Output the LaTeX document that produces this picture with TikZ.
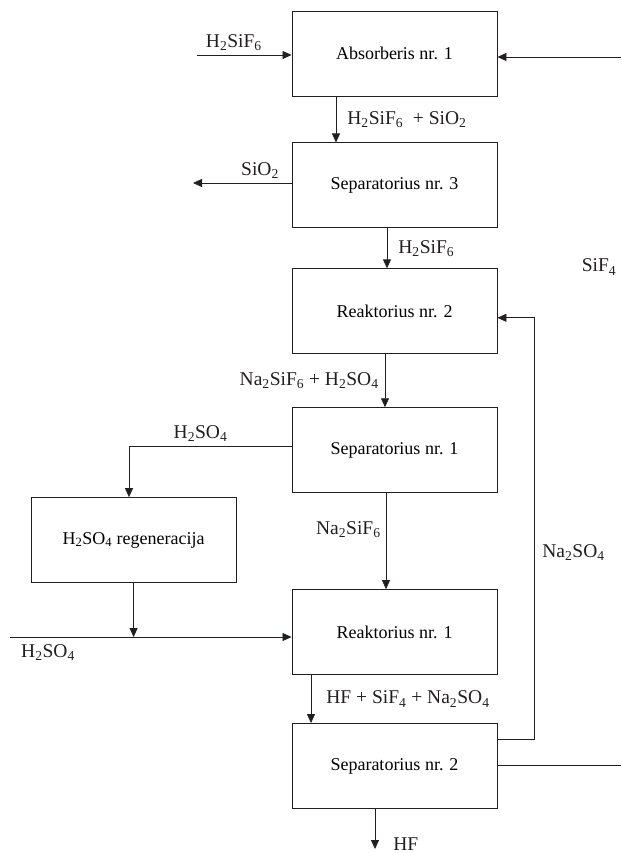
\documentclass[tikz,border=0pt]{standalone}
\usepackage{fontspec}
\setmainfont{Liberation Serif}
\usepackage{tikz}
\usetikzlibrary{arrows.meta, positioning}
\usepackage{xcolor}
\definecolor{flowink}{RGB}{35,31,32}
\tikzset{
    box/.style={draw=flowink, line width=0.9pt, fill=white, align=center,
                font=\fontsize{18}{22}\selectfont, minimum width=205pt, minimum height=85pt, inner sep=3pt},
    arrow/.style={-{Triangle[length=9pt, width=8pt]}, line width=0.8pt, flowink},
    pipe/.style={line width=0.8pt, flowink},
    lbl/.style={font=\fontsize{19.5}{23}\selectfont, inner sep=1pt, text=flowink},
}
\newcommand{\sbs}[1]{\textsubscript{#1}}

\begin{document}
\begin{tikzpicture}[x=1pt, y=-1pt]
                \useasboundingbox (0,0) rectangle (621,853);
                \node[box] (absorb) at (394.5,53.5) {Absorberis nr. 1};
                \node[box, below=46pt of absorb] (sep3) {Separatorius nr. 3};
                \node[box, below=40pt of sep3] (reak2) {Reaktorius nr. 2};
                \node[box, below=53pt of reak2] (sep1) {Separatorius nr. 1};
                \node[box, below left=4pt and 55pt of sep1.south west] (regen) {H\sbs{2}SO\sbs{4} regeneracija};
                \node[box, below=96pt of sep1] (reak1) {Reaktorius nr. 1};
                \node[box, below=48pt of reak1] (sep2) {Separatorius nr. 2};
                \node[lbl] (sif4) at (599,267) {SiF\sbs{4}};
                \coordinate (feed) at (197,55);
                \coordinate (sif4in) at (621,57);
                \coordinate (sio2out) at (193,183);
                \coordinate (acidturn) at (129,446);
                \coordinate (acidin) at (10,637);
                \coordinate (recyc) at (534,739);
                \coordinate (reak2in) at ([yshift=-6.5pt]reak2.east);
                \coordinate (gasout) at (621,765);
                \coordinate (hfout) at (375,849);
                \draw[arrow] (feed) -- node[lbl, above=3pt, pos=0.39] {H\sbs{2}SiF\sbs{6}} (feed -| absorb.west);
                \draw[arrow] (sif4in) -- (sif4in -| absorb.east);
                \draw[arrow] ([xshift=-58.5pt]absorb.south) -- node[lbl, right=10pt] {H\sbs{2}SiF\sbs{6}\ \ + SiO\sbs{2}} ([xshift=-58.5pt]absorb.south |- sep3.north);
                \draw[arrow] (sio2out -| sep3.west) -- node[lbl, above=3pt, pos=0.32] {SiO\sbs{2}} (sio2out);
                \draw[arrow] ([xshift=-7.5pt]sep3.south) -- node[lbl, right=10pt] {H\sbs{2}SiF\sbs{6}} ([xshift=-7.5pt]sep3.south |- reak2.north);
                \draw[arrow] ([xshift=-9.5pt]reak2.south) -- node[lbl, left=5pt] {Na\sbs{2}SiF\sbs{6} + H\sbs{2}SO\sbs{4}} ([xshift=-9.5pt]reak2.south |- sep1.north);
                \draw[arrow] (acidturn -| sep1.west) -- node[lbl, above=3pt, pos=0.56] {H\sbs{2}SO\sbs{4}} (acidturn) -- (acidturn |- regen.north);
                \draw[arrow] ([xshift=-8.5pt]sep1.south) -- node[lbl, left=4pt, pos=0.38] {Na\sbs{2}SiF\sbs{6}} ([xshift=-8.5pt]sep1.south |- reak1.north);
                \draw[arrow] (regen.south) -- (regen.south |- acidin);
                \draw[arrow] (acidin) -- node[lbl, below=6pt, pos=0.135] {H\sbs{2}SO\sbs{4}} (acidin -| reak1.west);
                \draw[arrow] ([xshift=-83.5pt]reak1.south) -- node[lbl, right=14pt] {HF + SiF\sbs{4} + Na\sbs{2}SO\sbs{4}} ([xshift=-83.5pt]reak1.south |- sep2.north);
                \draw[arrow] (recyc -| sep2.east) -- (recyc) -- node[lbl, right=7pt, pos=0.442] {Na\sbs{2}SO\sbs{4}} (recyc |- reak2in) -- (reak2in);
                \draw[pipe] (gasout -| sep2.east) -- (gasout);
                \draw[arrow] (hfout |- sep2.south) -- node[lbl, anchor=base west, pos=1, xshift=17pt, yshift=-1pt] {HF} (hfout);
            \end{tikzpicture}
\end{document}
